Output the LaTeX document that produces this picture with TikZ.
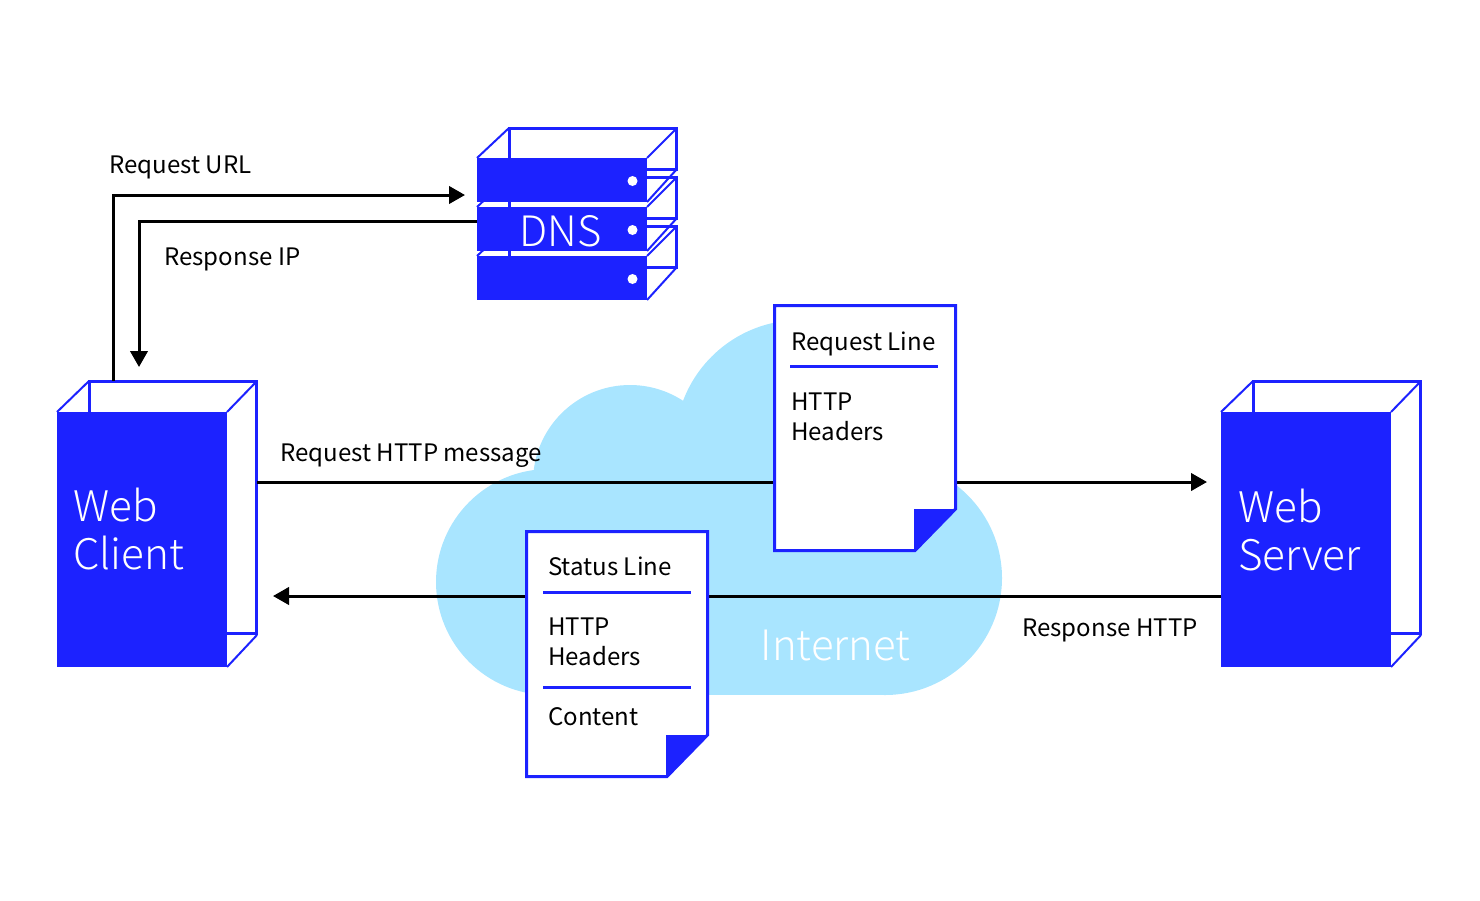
\documentclass[tikz,border=0pt]{standalone}
\usepackage{fontspec}
\setmainfont{Noto Sans CJK SC}
\newfontfamily\lightf{Noto Sans CJK SC Light}
\usetikzlibrary{arrows.meta}
\definecolor{brand}{HTML}{1C22FF}
\definecolor{sky}{HTML}{A9E5FF}
\tikzset{x=0.75pt,y=-0.75pt,
  frontface/.style={fill=brand,draw=none},
  backline/.style={draw=brand,line width=2.25pt,line join=miter},
  edgeline/.style={draw=brand,line width=1.5pt},
  flow/.style={draw=black,line width=2.25pt,-{Triangle[length=12pt,width=13pt]}},
  label/.style={inner sep=0pt,anchor=base west,font=\fontsize{18.05}{18}\selectfont,text=black},
  biglabel/.style={inner sep=0pt,anchor=base west,font=\lightf\fontsize{31.6}{36}\selectfont,text=white,align=left},
  paper/.style={draw=brand,line width=2.25pt,fill=white,line join=miter},
  rulebar/.style={draw=brand,line width=2.25pt},
  dot/.style={circle,fill=white,draw=none,minimum size=7.5pt,inner sep=0pt}}
\newcommand{\towerbox}[2]{% x-offset, name
  \draw[backline] (#1+89.5,381.5) rectangle (#1+256.5,633.5);
  \draw[edgeline] (#1+57,412) -- (#1+89,381) (#1+227,412) -- (#1+257,381) (#1+227,667) -- (#1+257,635);
  \node[frontface,minimum width=127.5pt,minimum height=191.25pt,inner sep=0pt,anchor=north west] (#2) at (#1+57,412) {};
}
\newcommand{\serverslab}[2]{% top of front, name
  \draw[backline] (509.5,#1-29.5) rectangle (676.5,#1+11.5);
  \draw[edgeline] (477,#1) -- (509,#1-30) (647,#1) -- (677,#1-30) (647,#1+44) -- (677,#1+11);
  \node[frontface,minimum width=127.5pt,minimum height=33pt,inner sep=0pt,anchor=north west] (#2) at (477,#1) {};
  \node[dot] at (632.5,#1+23) {};
}
\begin{document}
\begin{tikzpicture}
\useasboundingbox (0,0) rectangle (1480,900);
% cloud
\fill[sky] (549,582) circle[radius=113];
\fill[sky] (630,482) circle[radius=97];
\fill[sky] (800,445) circle[radius=125];
\fill[sky] (885,578) circle[radius=117];
\fill[sky] (549,480) rectangle (885,695);
% DNS
\serverslab{256}{dnsc}
\serverslab{207}{dnsb}
\serverslab{158}{dnsa}
\node[inner sep=0pt,anchor=base,font=\lightf\fontsize{31.4}{32}\selectfont,text=white] (dnslabel) at (560.5,246) {DNS};
% towers
\towerbox{0}{client}
\towerbox{1164}{server}
\node[biglabel] (clientname) at (73,569) {Web\\Client};
\node[biglabel] (servername) at (1238,570) {Web\\Server};
% connectors
\coordinate (urlbend) at (113,195);
\coordinate (urlend) at (465,195);
\coordinate (urlstart) at (113,381);
\draw[flow] (urlstart) -- (urlbend) -- (urlend);
\coordinate (ipbend) at (139,221);
\coordinate (ipend) at (139,367);
\draw[flow] (ipbend -| dnsb.west) -- (ipbend) -- (ipend);
\coordinate (reqstart) at (257,482);
\coordinate (reqend) at (1207,482);
\draw[flow] (reqstart) -- (reqend);
\coordinate (respend) at (273,596);
\draw[flow] (respend -| server.west) -- (respend);
% request doc
\draw[paper] (774.5,305.5) -- (955.5,305.5) -- (955.5,509) -- (915,550.5) -- (774.5,550.5) -- cycle;
\fill[brand] (914,509) -- (956.5,509) -- (914,551.5) -- cycle;
\draw[rulebar] (790,366) -- (938,366);
\node[label] (rl) at (791,350) {Request Line};
\node[label] (rh1) at (791,410) {HTTP};
\node[label] (rh2) at (791,440) {Headers};
% response doc
\draw[paper] (526.5,531.5) -- (707.5,531.5) -- (707.5,735) -- (667,776.5) -- (526.5,776.5) -- cycle;
\fill[brand] (666,735) -- (708.5,735) -- (666,777.5) -- cycle;
\draw[rulebar] (543,592) -- (691,592);
\draw[rulebar] (543,687) -- (691,687);
\node[label] (sl) at (548,575) {Status Line};
\node[label] (sh1) at (548,635) {HTTP};
\node[label] (sh2) at (548,665) {Headers};
\node[label] (sc) at (548,725) {Content};
% labels
\node[label] (l1) at (109,173) {Request URL};
\node[label] (l2) at (164,265) {Response IP};
\node[label] (l3) at (280,461) {Request HTTP message};
\node[label] (l4) at (1022,636) {Response HTTP};
\node[inner sep=0pt,anchor=base west,font=\lightf\fontsize{31.4}{32}\selectfont,text=white] (inet) at (760.5,660) {Internet};
\end{tikzpicture}
\end{document}
